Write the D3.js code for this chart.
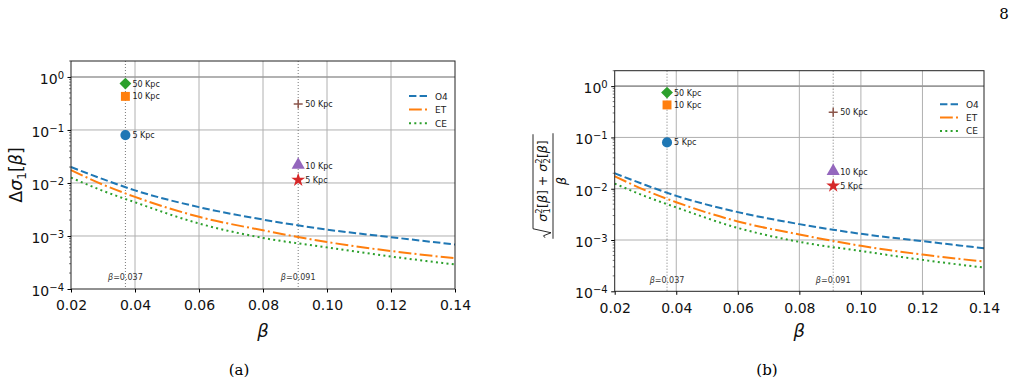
<!DOCTYPE html>
<html>
<head>
<meta charset="utf-8">
<script src="https://cdn.jsdelivr.net/npm/d3@7"></script>
<style>
  body { margin: 0; background: #fff; }
  svg { font-family: "DejaVu Sans", sans-serif; }
</style>
</head>
<body>
<svg id="fig" width="1016" height="385"></svg>
<script>
// beta values where the curves were read
var beta = [0.02, 0.03, 0.04, 0.06, 0.08, 0.10, 0.12, 0.14];
// detector curves
var o4 = [0.0200, 0.0118, 0.00726, 0.00350, 0.00204, 0.00132, 0.00095, 0.00069];
var et = [0.0175, 0.0093, 0.00546, 0.00230, 0.00128, 0.00077, 0.00052, 0.00038];
var ce = [0.0126, 0.0071, 0.00432, 0.00172, 0.00092, 0.00061, 0.00041, 0.00029];
var seriesNames = ['O4', 'ET', 'CE'];

// supernova points
var markBeta = [0.037, 0.037, 0.037, 0.091, 0.091, 0.091];
var markVal = [0.08, 0.43, 0.75, 0.0114, 0.021, 0.31];
var markLabel = ['5 Kpc', '10 Kpc', '50 Kpc', '5 Kpc', '10 Kpc', '50 Kpc'];
var markShape = ['circle', 'square', 'diamond', 'star', 'triangle', 'plus'];

// vertical reference lines
var refBeta = [0.037, 0.091];
var refValue = ['0.037', '0.091'];

var xTicks = [0.02, 0.04, 0.06, 0.08, 0.10, 0.12, 0.14];
var yTicks = [1e-4, 1e-3, 1e-2, 1e-1, 1];
var yExp = ['\u22124', '\u22123', '\u22122', '\u22121', '0'];

var colors = ['#1f77b4', '#ff7f0e', '#2ca02c', '#d62728', '#9467bd', '#8c564b'];
var dashes = ['7.4,3.2', '12.8,3.2,2,3.2', '2,3.3'];

var svg = d3.select('#fig');

function drawPanel(p) {
  var x = d3.scaleLinear().domain([0.02, 0.14]).range([p.left, p.right]);
  var y = d3.scaleLog().domain([1e-4, 2]).range([p.bottom, p.top]);
  var g = svg.append('g');

  //grid
  g.selectAll('.gx').data(xTicks.slice(1, -1)).enter().append('line')
    .attr('x1', d => x(d)).attr('x2', d => x(d))
    .attr('y1', p.top).attr('y2', p.bottom)
    .style('stroke', '#b0b0b0').style('stroke-width', 1);
  g.selectAll('.gy').data(yTicks.slice(1, -1)).enter().append('line')
    .attr('x1', p.left).attr('x2', p.right)
    .attr('y1', d => y(d)).attr('y2', d => y(d))
    .style('stroke', '#b0b0b0').style('stroke-width', 1);
  // line at 1
  g.append('line').attr('x1', p.left).attr('x2', p.right)
    .attr('y1', y(1)).attr('y2', y(1))
    .style('stroke', '#999').style('stroke-width', 1.6);

  // reference lines
  refBeta.forEach(function(b, i) {
    g.append('line').attr('x1', x(b)).attr('x2', x(b))
      .attr('y1', p.top).attr('y2', p.bottom)
      .style('stroke', '#777').style('stroke-width', 1)
      .style('stroke-dasharray', '1,2');
    var t = g.append('text').attr('x', x(b)).attr('y', y(1.45e-4))
      .attr('text-anchor', 'middle').style('font-size', '8px').style('fill', '#333');
    t.append('tspan').style('font-style', 'italic').text('\u03b2');
    t.append('tspan').text('=' + refValue[i]);
  });

  // curves
  var line = d3.line().x((d, i) => x(beta[i])).y(d => y(d)).curve(d3.curveMonotoneX);
  [o4, et, ce].forEach(function(s, i) {
    g.append('path').datum(s).attr('d', line)
      .style('fill', 'none').style('stroke', colors[i]).style('stroke-width', 2)
      .style('stroke-dasharray', dashes[i]);
  });

  // markers
  markBeta.forEach(function(b, i) {
    var cx = x(b), cy = y(markVal[i]);
    var sh = markShape[i];
    if (sh == 'plus') {
      g.append('path').attr('d', 'M' + (cx - 4.5) + ',' + cy + 'H' + (cx + 4.5) + 'M' + cx + ',' + (cy - 4.5) + 'V' + (cy + 4.5))
        .style('stroke', colors[i]).style('stroke-width', 1.5).style('fill', 'none');
    } else {
      var sym = {circle: d3.symbolCircle, square: d3.symbolSquare, diamond: d3.symbolSquare,
        star: d3.symbolStar, triangle: d3.symbolTriangle}[sh];
      var size = {circle: 80, square: 80, diamond: 70, star: 60, triangle: 75}[sh];
      var rot = sh == 'diamond' ? ' rotate(45)' : '';
      var dy = sh == 'triangle' ? -1 : 0;
      g.append('path').attr('d', d3.symbol().type(sym).size(size)())
        .attr('transform', 'translate(' + cx + ',' + (cy + dy) + ')' + rot)
        .style('fill', colors[i]);
    }
    g.append('text').attr('x', cx + 7).attr('y', cy + 3)
      .style('font-size', '8px').style('fill', '#222').text(markLabel[i]);
  });

  // frame
  g.append('rect').attr('x', p.left).attr('y', p.top)
    .attr('width', p.right - p.left).attr('height', p.bottom - p.top)
    .style('fill', 'none').style('stroke', '#222').style('stroke-width', 1);

  // x axis
  var xa = g.append('g').attr('transform', 'translate(0,' + p.bottom + ')')
    .call(d3.axisBottom(x).tickValues(xTicks).tickSize(3.5).tickPadding(8)
      .tickFormat(d3.format('.2f')));
  xa.select('.domain').remove();
  xa.selectAll('text').style('font-size', '14px').style('fill', '#111')
    .style('font-family', '"DejaVu Sans", sans-serif');

  // y axis major
  var ya = g.append('g').attr('transform', 'translate(' + p.left + ',0)')
    .call(d3.axisLeft(y).tickValues(yTicks).tickSize(3.5).tickPadding(3.5).tickFormat(''));
  ya.select('.domain').remove();
  ya.selectAll('.tick').each(function(d, i) {
    var t = d3.select(this).append('text').attr('x', -7).attr('dy', '0.45em')
      .attr('text-anchor', 'end').style('font-size', '14px').style('fill', '#111')
      .style('font-family', '"DejaVu Sans", sans-serif');
    t.append('tspan').text('10');
    t.append('tspan').attr('dy', '-0.5em').style('font-size', '10px').text(yExp[i]);
  });
  // minor ticks
  var minor = [];
  for (var e = -4; e <= 0; e++) {
    for (var k = 2; k <= 9; k++) {
      var v = k * Math.pow(10, e);
      if (v <= 2) minor.push(v);
    }
  }
  g.selectAll('.mt').data(minor).enter().append('line')
    .attr('x1', p.left - 2).attr('x2', p.left)
    .attr('y1', d => y(d)).attr('y2', d => y(d))
    .style('stroke', '#222').style('stroke-width', 0.6);

  // legend
  seriesNames.forEach(function(n, i) {
    var ly = p.legY + i * p.legStep;
    g.append('line').attr('x1', p.legX).attr('x2', p.legX + 18)
      .attr('y1', ly).attr('y2', ly)
      .style('stroke', colors[i]).style('stroke-width', 2)
      .style('stroke-dasharray', dashes[i]);
    g.append('text').attr('x', p.legX + 26).attr('y', ly + 3.5)
      .style('font-size', '9px').style('fill', '#222').text(n);
  });

  // x label
  g.append('text').attr('x', (p.left + p.right) / 2).attr('y', 337)
    .attr('text-anchor', 'middle').style('font-size', '18px').style('font-style', 'italic')
    .style('fill', '#111').text('\u03b2');

  // caption
  svg.append('text').attr('x', p.capX).attr('y', 375).attr('text-anchor', 'middle')
    .style('font-family', '"DejaVu Serif", "Liberation Serif", serif').style('font-size', '15px')
    .text(p.caption);

  return g;
}

var gA = drawPanel({left: 71, right: 455, top: 61, bottom: 289,
  legX: 409, legY: 96, legStep: 13.6, capX: 239, caption: '(a)'});
var gB = drawPanel({left: 614.7, right: 984, top: 70.7, bottom: 291.3,
  legX: 940, legY: 104.3, legStep: 13.3, capX: 767, caption: '(b)'});

// y label panel a
var la = svg.append('text').attr('transform', 'translate(22,175) rotate(-90)')
  .attr('text-anchor', 'middle').style('font-size', '17.5px').style('fill', '#111');
la.append('tspan').text('\u0394');
la.append('tspan').style('font-style', 'italic').text('\u03c3');
la.append('tspan').attr('dy', 4).style('font-size', '12px').text('1');
la.append('tspan').attr('dy', -4).text('[');
la.append('tspan').style('font-style', 'italic').text('\u03b2');
la.append('tspan').text(']');

// y label panel b: sqrt(s1^2 + s2^2)/beta
var lb = svg.append('g').attr('transform', 'translate(553,181) rotate(-90)');
var num = lb.append('text').attr('y', -6).attr('text-anchor', 'middle')
  .style('font-size', '12.5px').style('fill', '#111');
function sig(t, n) {
  t.append('tspan').style('font-style', 'italic').text('\u03c3');
  t.append('tspan').attr('dy', -5).style('font-size', '8.5px').text('2');
  t.append('tspan').attr('dx', -5).attr('dy', 8).style('font-size', '8.5px').text(n);
  t.append('tspan').attr('dy', -3).text('[');
  t.append('tspan').style('font-style', 'italic').text('\u03b2');
  t.append('tspan').text(']');
}
sig(num, '1');
num.append('tspan').text(' + ');
sig(num, '2');
var nw = num.node().getComputedTextLength();
var x0 = -nw / 2 - 2, x1 = nw / 2 + 1;
lb.append('path')
  .attr('d', 'M' + (x0 - 9) + ',-8 L' + (x0 - 7) + ',-9.5 L' + (x0 - 4) + ',-2 L' + x0 + ',-20 H' + x1)
  .style('fill', 'none').style('stroke', '#111').style('stroke-width', 0.9);
lb.append('line').attr('x1', x0 - 10).attr('x2', x1 + 1).attr('y1', 0).attr('y2', 0)
  .style('stroke', '#111').style('stroke-width', 0.9);
lb.append('text').attr('y', 13).attr('text-anchor', 'middle')
  .style('font-size', '12.5px').style('font-style', 'italic').style('fill', '#111').text('\u03b2');

// page number
svg.append('text').attr('x', 1004).attr('y', 19).attr('text-anchor', 'middle')
  .style('font-family', '"DejaVu Serif", "Liberation Serif", serif').style('font-size', '15px')
  .text('8');
</script>
</body>
</html>
